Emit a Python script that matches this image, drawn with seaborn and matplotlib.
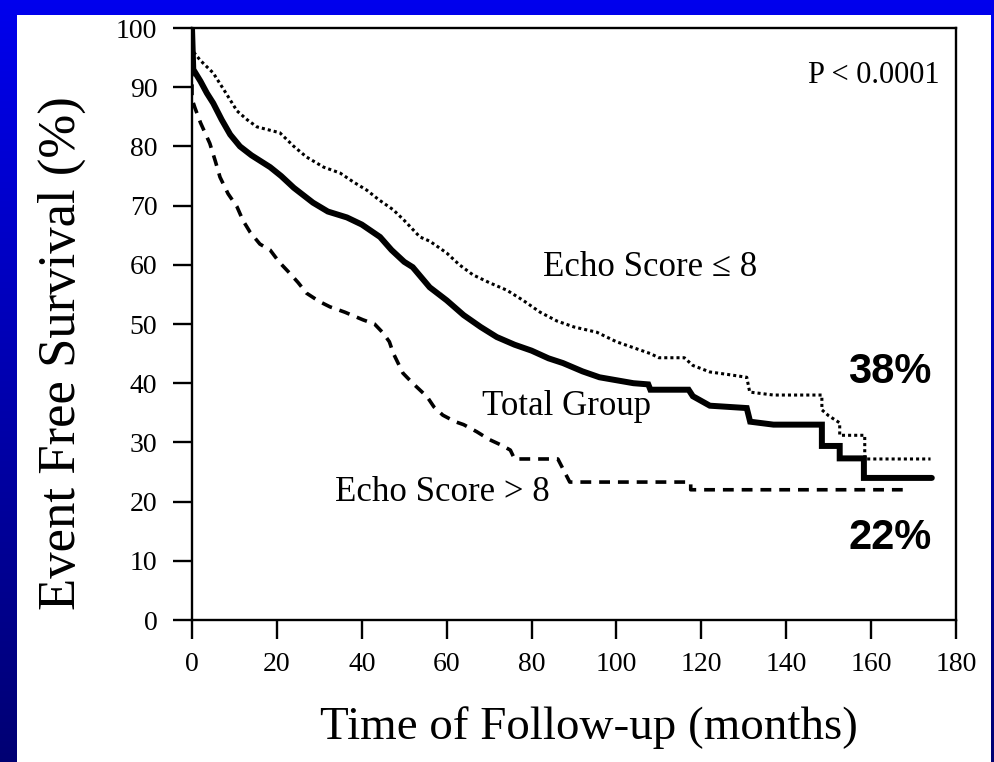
import numpy as np
import pandas as pd
import matplotlib
matplotlib.use("Agg")
import matplotlib.pyplot as plt
from matplotlib.patches import Rectangle
import seaborn as sns

# ---------------- data (curve vertices) ----------------
total_t = [0, 0.3, 2, 3.5, 5, 7, 9, 11.3, 14, 18.4, 21, 24, 28.5, 32, 36.5, 40,
           44.3, 47, 50, 52, 56, 60, 64, 68, 71.8, 76, 80, 84, 87.4, 92, 96,
           100, 104, 107.5, 108, 117, 118, 122, 130.7, 131.5, 137, 148.4, 148.4,
           152.6, 152.6, 158.3, 158.3, 174.3]
total_s = [100, 93, 91, 89, 87.3, 84.5, 82, 80, 78.5, 76.5, 75, 73, 70.5, 69,
           68, 66.8, 64.7, 62.5, 60.5, 59.6, 56.2, 54, 51.5, 49.5, 47.8, 46.5,
           45.5, 44.2, 43.4, 42, 41, 40.5, 40, 39.8, 38.9, 38.9, 37.8, 36.2,
           35.8, 33.5, 33, 33, 29.4, 29.4, 27.3, 27.3, 24, 24]

low_t = [0, 0.3, 2, 5, 8, 10.6, 13, 15.3, 18, 20.7, 24, 27, 31, 34.9, 38, 41.2,
         44, 47.4, 50, 53.7, 56, 60, 63, 66.2, 70, 74.2, 78, 82, 86, 90, 95.4,
         100, 104, 108, 110, 116, 118, 122, 126, 130.7, 131.4, 137, 148.4,
         148.4, 150, 152.6, 152.6, 158.5, 158.5, 174]
low_s = [100, 96, 94.5, 92.4, 89, 86, 84.5, 83.3, 82.8, 82.3, 80, 78.2, 76.5,
         75.5, 74, 72.6, 71, 69.3, 67.5, 64.7, 64, 62, 60, 58.3, 57, 55.7, 54,
         52, 50.5, 49.5, 48.6, 47, 46, 45, 44.3, 44.3, 43, 41.9, 41.5, 41,
         38.5, 38, 38, 35.5, 34.5, 33.3, 31.2, 31.2, 27.2, 27.2]

high_t = [0, 0, 0.7, 2, 4.2, 5.5, 6.6, 8.5, 10.6, 12, 13.7, 16, 18.4, 20.5,
          23, 25, 27, 30, 32.5, 36, 40.3, 43, 45, 46.5, 47.4, 49.7, 52, 55.4,
          57, 59.1, 62, 64, 67.1, 70, 73, 75, 76, 86.2, 89, 117.5, 117.5, 169]
high_s = [100, 88, 86.5, 84, 80.5, 77.5, 74.8, 72, 69.8, 67.5, 65.5, 63.5, 62.5,
          60.5, 58.6, 57, 55.2, 53.8, 52.9, 52, 50.7, 50, 48.5, 47, 45.1, 41.7,
          40, 37.7, 36, 34.6, 33.5, 33, 31.8, 30.5, 29.5, 28.7, 27.2, 27.2,
          23.3, 23.3, 22, 22]

x_ticks = [0, 20, 40, 60, 80, 100, 120, 140, 160, 180]
y_ticks = [0, 10, 20, 30, 40, 50, 60, 70, 80, 90, 100]

# ---------------- style ----------------
sns.set_style("white")
plt.rcParams["font.family"] = ["Liberation Serif", "DejaVu Serif"]
plt.rcParams["text.color"] = "black"
plt.rcParams["axes.labelcolor"] = "black"
plt.rcParams["xtick.color"] = "black"
plt.rcParams["ytick.color"] = "black"

W, H = 995, 762
fig = plt.figure(figsize=(W / 100, H / 100), dpi=100)

# blue gradient background
bg = fig.add_axes([0, 0, 1, 1], zorder=-10)
grad = np.linspace(0, 1, 256).reshape(-1, 1)
top = np.array([0.0, 0.0, 0.93])
bot = np.array([0.0, 0.0, 0.45])
img = top[None, None, :] * (1 - grad[:, :, None]) + bot[None, None, :] * grad[:, :, None]
bg.imshow(img, aspect="auto", extent=[0, 1, 0, 1], origin="upper")
bg.set_axis_off()
fig.patches.append(Rectangle((17 / W, 0), (991 - 17) / W, 1 - 15 / H,
                             transform=fig.transFigure, facecolor="white",
                             edgecolor="none", zorder=-5))

ax = fig.add_axes([192 / W, 1 - 620 / H, (956 - 192) / W, (620 - 28) / H])
ax.set_facecolor("white")

df_total = pd.DataFrame({"t": total_t, "s": total_s})
df_low = pd.DataFrame({"t": low_t, "s": low_s})
df_high = pd.DataFrame({"t": high_t, "s": high_s})

sns.lineplot(data=df_low, x="t", y="s", ax=ax, estimator=None, sort=False,
             color="black", lw=2.2, linestyle=(0, (1.0, 1.0)))
sns.lineplot(data=df_high, x="t", y="s", ax=ax, estimator=None, sort=False,
             color="black", lw=2.6, linestyle=(0, (3.0, 2.2)))
sns.lineplot(data=df_total, x="t", y="s", ax=ax, estimator=None, sort=False,
             color="black", lw=4.3, solid_joinstyle="miter")

ax.set_xlim(0, 180)
ax.set_ylim(0, 100)
ax.set_xticks(x_ticks)
ax.set_yticks(y_ticks)
ax.set_xticklabels([str(v) for v in x_ticks])
ax.set_yticklabels([str(v) for v in y_ticks])
ax.tick_params(axis="both", direction="out", length=14, width=1.7,
               labelsize=20, color="black", labelcolor="black")
ax.tick_params(axis="x", pad=9)
ax.tick_params(axis="y", pad=11)
ax.tick_params(left=True, bottom=True)
for sp in ax.spines.values():
    sp.set_visible(True)
    sp.set_color("black")
    sp.set_linewidth(1.7)

ax.set_xlabel("")
ax.set_ylabel("")
fig.text(589 / W, 1 - 728 / H, "Time of Follow-up (months)", ha="center",
         va="center", fontsize=33.8, color="black")
fig.text(62 / W, 1 - 353 / H, "Event Free Survival (%)", ha="center",
         va="center", rotation=90, fontsize=38, color="black")

ax.text(82.7, 59.5, "Echo Score \u2264 8", ha="left", va="center", fontsize=25, color="black")
ax.text(68.3, 36.0, "Total Group", ha="left", va="center", fontsize=25, color="black")
ax.text(33.7, 21.6, "Echo Score > 8", ha="left", va="center", fontsize=25, color="black")
ax.text(176.2, 92, "P < 0.0001", ha="right", va="center", fontsize=22, color="black")
ax.text(164.4, 41.9, "38%", ha="center", va="center", fontsize=30, color="black",
        fontweight="bold", family=["Liberation Sans", "DejaVu Sans"])
ax.text(164.4, 13.9, "22%", ha="center", va="center", fontsize=30, color="black",
        fontweight="bold", family=["Liberation Sans", "DejaVu Sans"])

fig.savefig("out.png", dpi=100)
